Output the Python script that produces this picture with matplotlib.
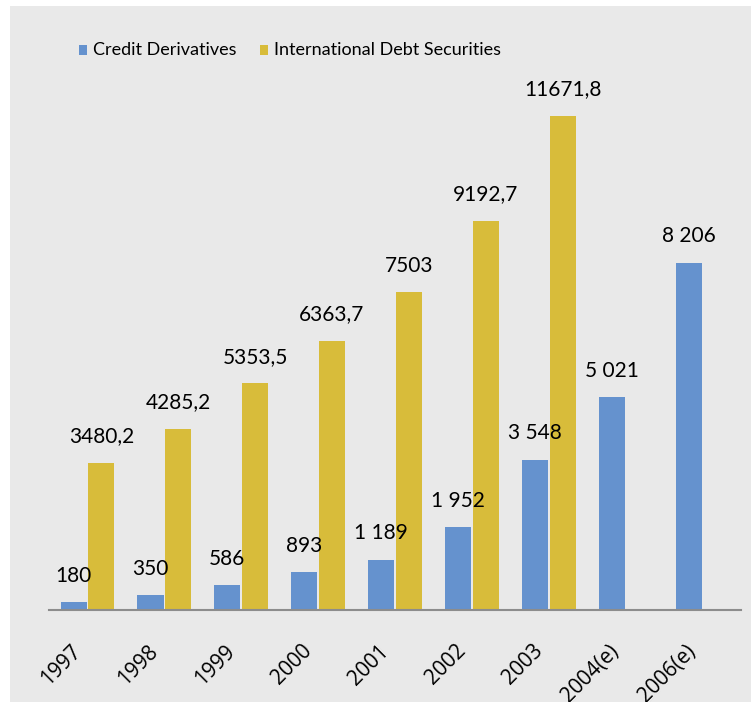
import matplotlib.pyplot as plt
import matplotlib.transforms as mtransforms
from matplotlib.patches import Rectangle
import numpy as np

years = ["1997", "1998", "1999", "2000", "2001", "2002", "2003", "2004(e)", "2006(e)"]
credit_derivatives = [180, 350, 586, 893, 1189, 1952, 3548, 5021, 8206]
intl_debt = [3480.2, 4285.2, 5353.5, 6363.7, 7503, 9192.7, 11671.8, None, None]
series_names = ["Credit Derivatives", "International Debt Securities"]

BLUE = "#6592ce"
GOLD = "#d8bc3a"
BG = "#e9e9e9"
LABEL_FONT = ["Liberation Sans Narrow", "Lato", "DejaVu Sans"]
TICK_FONT = ["Open Sans", "DejaVu Sans"]


def fmt_credit(v):
    return f"{v:,}".replace(",", " ")


def fmt_debt(v):
    s = f"{v:.1f}".replace(".", ",")
    return s[:-2] if s.endswith(",0") else s


W, H = 751, 702
fig = plt.figure(figsize=(W / 100, H / 100), dpi=100, facecolor="white")
# grey panel behind everything
fig.add_artist(Rectangle((10 / W, 0), 1, 1 - 6 / H, transform=fig.transFigure,
                         facecolor=BG, edgecolor="none", zorder=-10))

ax = fig.add_axes([49 / W, 92 / H, 692 / W, 550 / H])
ax.set_facecolor("none")
ax.set_zorder(1)

x = np.arange(len(years))
w = 0.34
off = 0.18

for i, v in enumerate(credit_derivatives):
    ax.bar(x[i] - off, v, width=w, color=BLUE)
    ax.annotate(fmt_credit(v), (x[i] - off, v), xytext=(0, 12), textcoords="offset points",
                ha="center", va="bottom", fontsize=15, family=LABEL_FONT)

for i, v in enumerate(intl_debt):
    if v is None:
        continue
    ax.bar(x[i] + off, v, width=w, color=GOLD)
    ax.annotate(fmt_debt(v), (x[i] + off, v), xytext=(0, 12), textcoords="offset points",
                ha="center", va="bottom", fontsize=15, family=LABEL_FONT)

ax.set_xlim(-0.5, len(years) - 0.5)
ax.set_ylim(0, 12993)
ax.set_yticks([])
for side in ["left", "right", "top"]:
    ax.spines[side].set_visible(False)
ax.spines["bottom"].set_color("#8c8c8c")
ax.spines["bottom"].set_linewidth(1.5)

ax.set_xticks(x)
ax.set_xticklabels(years, rotation=45, ha="right", rotation_mode="anchor",
                   fontsize=15, family=TICK_FONT)
ax.tick_params(axis="x", length=0, pad=22)
# nudge the slanted year labels to the left
shift = mtransforms.ScaledTranslation(-17 / 100, 0, fig.dpi_scale_trans)
for lbl in ax.get_xticklabels():
    lbl.set_transform(lbl.get_transform() + shift)

# legend: small square swatch followed by the series name
legend_y = 1 - 50 / H
for name, color, x0 in zip(series_names, [BLUE, GOLD], [79, 260]):
    fig.add_artist(Rectangle((x0 / W, legend_y - 5 / H), 8 / W, 10 / H,
                             transform=fig.transFigure, facecolor=color, edgecolor="none"))
    fig.text((x0 + 14) / W, legend_y, name, ha="left", va="center",
             fontsize=13, family=LABEL_FONT)

fig.savefig("out.png", dpi=100, facecolor="white")
